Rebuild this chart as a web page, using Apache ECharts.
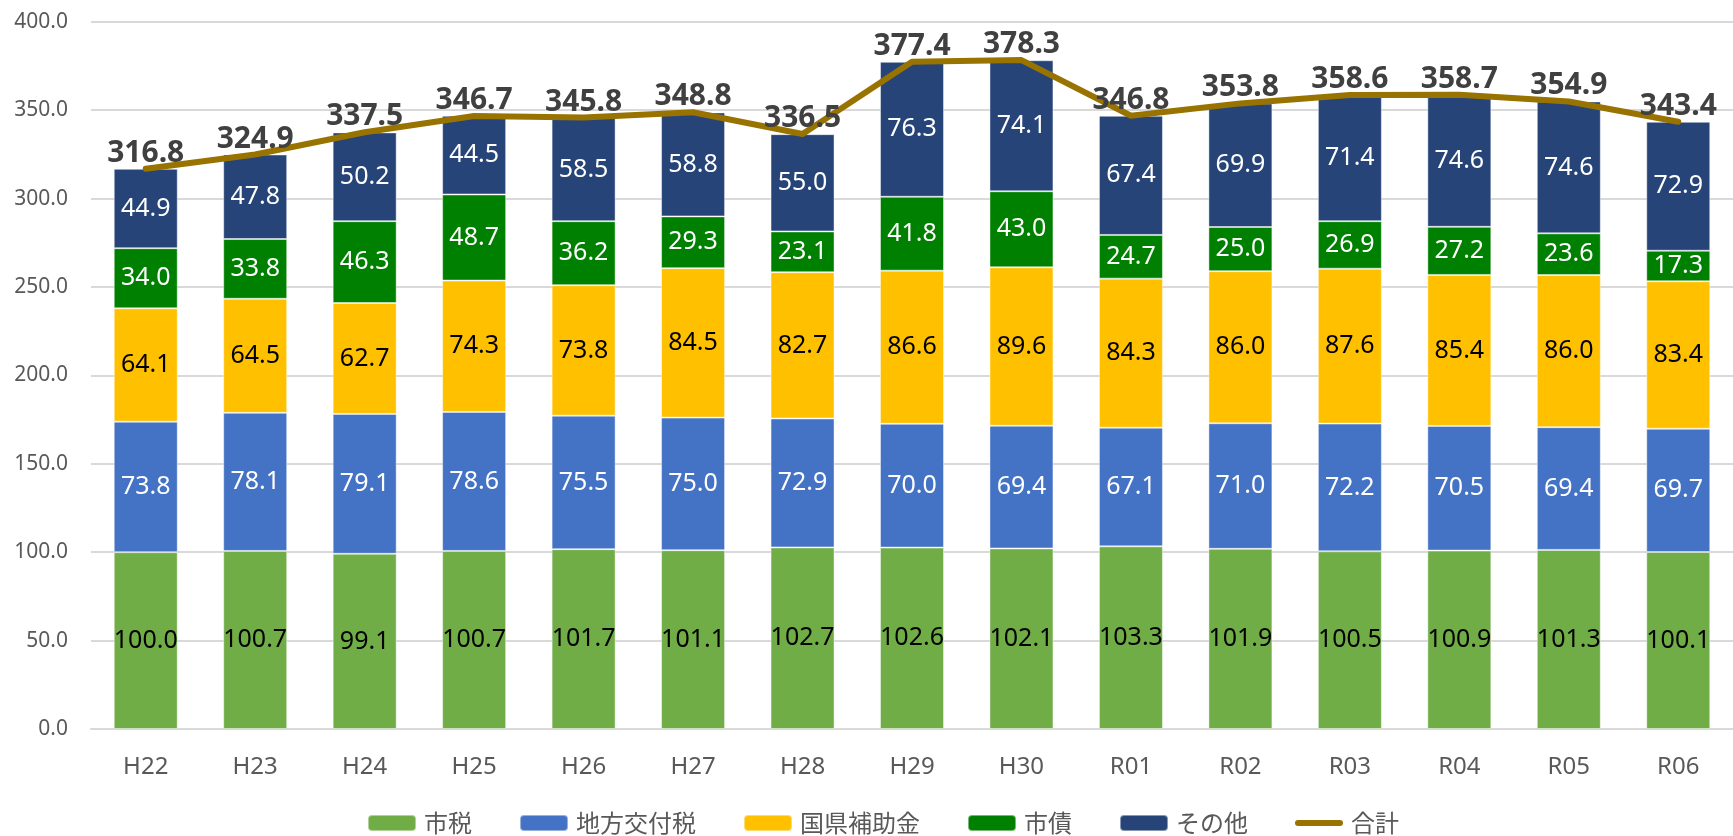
<!DOCTYPE html>
<html>
<head>
<meta charset="utf-8">
<script src="https://cdn.jsdelivr.net/npm/echarts@6/dist/echarts.min.js"></script>
<style>
html,body{margin:0;padding:0;background:#fff;}
#c{width:1733px;height:836px;}
</style>
</head>
<body>
<div id="c"></div>
<script>
const categories = ['H22','H23','H24','H25','H26','H27','H28','H29','H30','R01','R02','R03','R04','R05','R06'];
const shizei = [100.0,100.7,99.1,100.7,101.7,101.1,102.7,102.6,102.1,103.3,101.9,100.5,100.9,101.3,100.1];
const chihoKofuzei = [73.8,78.1,79.1,78.6,75.5,75.0,72.9,70.0,69.4,67.1,71.0,72.2,70.5,69.4,69.7];
const kokukenHojokin = [64.1,64.5,62.7,74.3,73.8,84.5,82.7,86.6,89.6,84.3,86.0,87.6,85.4,86.0,83.4];
const shisai = [34.0,33.8,46.3,48.7,36.2,29.3,23.1,41.8,43.0,24.7,25.0,26.9,27.2,23.6,17.3];
const sonota = [44.9,47.8,50.2,44.5,58.5,58.8,55.0,76.3,74.1,67.4,69.9,71.4,74.6,74.6,72.9];
const gokei = [316.8,324.9,337.5,346.7,345.8,348.8,336.5,377.4,378.3,346.8,353.8,358.6,358.7,354.9,343.4];
const yTicks = [0,50,100,150,200,250,300,350,400];

const FONT = '"Noto Sans","Noto Sans CJK JP",sans-serif';
const chart = echarts.init(document.getElementById('c'), null, {renderer:'canvas'});

function barSeries(name, data, color, labelColor){
  return {
    name, type:'bar', stack:'total', data,
    barWidth:64,
    itemStyle:{color, borderColor:'rgba(255,255,255,0.45)', borderWidth:1},
    label:{show:true, position:'inside', color:labelColor, fontSize:25, fontFamily:FONT,
      formatter:p=>p.value.toFixed(1)},
    emphasis:{disabled:true}
  };
}

chart.setOption({
  animation:false,
  textStyle:{fontFamily:FONT},
  grid:{left:91, right:0, top:21.7, bottom:107, containLabel:false},
  legend:{
    top:806, left:362,
    itemWidth:48, itemHeight:16, itemGap:47,
    textStyle:{fontSize:24, color:'#595959', fontFamily:'"Noto Sans CJK JP",sans-serif', padding:[0,0,0,3]},
    data:['市税','地方交付税','国県補助金','市債','その他',
      {name:'合計', icon:'path://M3,0 H45 A3,3 0 0 1 45,6 H3 A3,3 0 0 1 3,0 Z'}]
  },
  xAxis:{
    type:'category', data:categories,
    axisLine:{show:true, lineStyle:{color:'#D9D9D9', width:2}},
    axisTick:{show:false},
    axisLabel:{color:'#595959', fontSize:24, margin:26, fontFamily:FONT}
  },
  yAxis:{
    type:'value', min:yTicks[0], max:yTicks[yTicks.length-1], interval:50,
    axisLine:{show:false}, axisTick:{show:false},
    splitLine:{lineStyle:{color:'#D9D9D9', width:2}},
    axisLabel:{color:'#595959', fontSize:21, margin:23, fontFamily:FONT,
      formatter:v=>v.toFixed(1)}
  },
  series:[
    barSeries('市税', shizei, '#70AD47', '#000000'),
    barSeries('地方交付税', chihoKofuzei, '#4472C4', '#FFFFFF'),
    barSeries('国県補助金', kokukenHojokin, '#FFC000', '#000000'),
    barSeries('市債', shisai, '#008000', '#FFFFFF'),
    barSeries('その他', sonota, '#264478', '#FFFFFF'),
    {
      name:'合計', type:'line', data:gokei,
      symbol:'circle', symbolSize:1, showSymbol:true,
      lineStyle:{color:'#997300', width:6, cap:'round', join:'round'},
      itemStyle:{color:'#997300'},
      label:{show:true, position:'top', distance:0, color:'#404040', fontSize:30, fontWeight:'bold', fontFamily:FONT,
        formatter:p=>p.value.toFixed(1)},
      z:5,
      emphasis:{disabled:true}
    }
  ]
});
</script>
</body>
</html>
